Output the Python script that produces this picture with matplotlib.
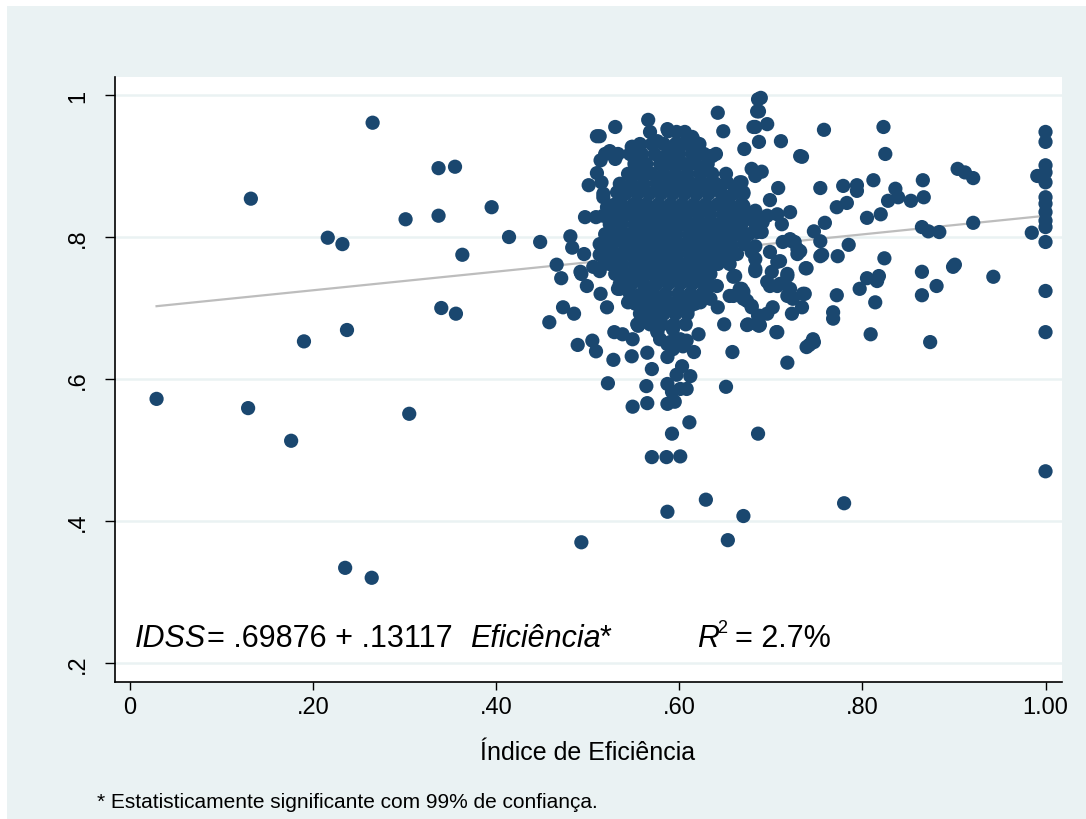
import numpy as np
import matplotlib.pyplot as plt
from matplotlib.patches import Rectangle

plt.rcParams['font.family'] = ['Liberation Sans', 'DejaVu Sans']

# regression shown on the chart
intercept = 0.69876
slope = 0.13117
fit_range = [0.029, 1.0]

xtick_vals = [0, 0.2, 0.4, 0.6, 0.8, 1.0]
xtick_labels = ['0', '.20', '.40', '.60', '.80', '1.00']
ytick_vals = [0.2, 0.4, 0.6, 0.8, 1.0]
ytick_labels = ['.2', '.4', '.6', '.8', '1']

# scattered municipalities on the left
left_pts = [(.029, .572), (.132, .854), (.129, .559), (.176, .513), (.190, .653),
            (.216, .799), (.232, .790), (.237, .669), (.265, .961), (.235, .334),
            (.264, .320), (.301, .825), (.305, .551), (.337, .897), (.355, .899),
            (.337, .830), (.340, .700), (.356, .692), (.363, .775), (.395, .842),
            (.414, .800), (.448, .793)]

# edge of the main cluster
edge_pts = [(.481, .801), (.483, .785), (.496, .776), (.466, .761), (.471, .742),
            (.493, .748), (.499, .731), (.513, .775), (.506, .758), (.518, .762),
            (.513, .752), (.514, .720), (.521, .701), (.530, .800), (.533, .727),
            (.473, .701), (.485, .692), (.458, .680), (.489, .648), (.505, .654),
            (.509, .639), (.529, .666), (.528, .627), (.497, .828), (.509, .828),
            (.521, .830), (.501, .873), (.515, .877), (.517, .856), (.510, .890),
            (.566, .965), (.530, .955), (.510, .942), (.524, .921), (.514, .908),
            (.517, .861), (.534, .863), (.528, .845), (.548, .927), (.551, .910),
            (.548, .870), (.568, .948), (.576, .935), (.588, .949), (.597, .948),
            (.606, .948), (.615, .938), (.634, .914), (.642, .975), (.648, .949),
            (.671, .924), (.679, .896), (.686, .994), (.685, .977), (.681, .955),
            (.532, .797), (.652, .877), (.664, .872), (.522, .594), (.492, .751),
            (.535, .727), (.544, .708), (.557, .717), (.559, .680), (.554, .677),
            (.568, .694), (.576, .666), (.587, .649), (.593, .642), (.601, .656),
            (.608, .654), (.614, .706), (.623, .708), (.634, .713), (.642, .701),
            (.659, .744), (.655, .717), (.666, .727), (.670, .717), (.675, .677),
            (.685, .677), (.679, .703), (.513, .942), (.530, .910), (.549, .927),
            (.532, .863), (.521, .842), (.517, .830), (.560, .844), (.604, .931),
            (.590, .921), (.587, .952), (.614, .941), (.636, .914), (.630, .900)]

# lower part of the cluster
low_pts = [(.548, .632), (.565, .637), (.570, .614), (.564, .590), (.565, .566),
           (.549, .561), (.587, .593), (.587, .565), (.595, .568), (.592, .582),
           (.601, .586), (.608, .586), (.603, .618), (.597, .606), (.612, .604),
           (.611, .539), (.592, .523), (.686, .523), (.651, .589), (.658, .638),
           (.718, .623), (.616, .638), (.587, .631), (.621, .663), (.649, .677),
           (.674, .676), (.687, .675), (.706, .666), (.742, .648), (.746, .656),
           (.738, .756), (.754, .773), (.702, .701), (.723, .692), (.734, .701),
           (.686, .689), (.696, .692), (.679, .701), (.674, .710), (.659, .717),
           (.668, .727), (.661, .745), (.634, .731), (.641, .731), (.620, .745),
           (.617, .713), (.612, .703), (.604, .701), (.576, .689), (.555, .675),
           (.538, .663), (.549, .656), (.579, .656), (.590, .652), (.604, .646),
           (.576, .668), (.593, .670), (.555, .717), (.568, .723), (.543, .741),
           (.683, .755), (.696, .737), (.707, .731), (.718, .745), (.718, .717),
           (.724, .713), (.735, .720), (.707, .765), (.729, .776), (.679, .779)]

bottom_pts = [(.493, .370), (.570, .490), (.586, .490), (.601, .491), (.587, .413),
              (.629, .430), (.670, .407), (.653, .373), (.780, .425), (1.0, .470)]

right_pts = [(.689, .996), (.687, .977), (.683, .955), (.696, .959), (.687, .934),
             (.711, .935), (.758, .951), (.734, .913), (.823, .955), (.825, .917),
             (1.0, .948), (1.0, .934), (.690, .892), (.683, .886), (.754, .869),
             (.779, .872), (.794, .873), (.794, .865), (.812, .880), (.866, .880),
             (.904, .896), (.912, .891), (.921, .883), (1.0, .901), (1.0, .891),
             (.991, .886), (1.0, .877), (1.0, .856), (1.0, .847), (1.0, .835),
             (1.0, .823), (1.0, .814), (.985, .806), (1.0, .793), (1.0, .724),
             (1.0, .666), (.921, .820), (.884, .807), (.865, .814), (.872, .808),
             (.867, .856), (.853, .851), (.836, .868), (.839, .856), (.828, .851),
             (.820, .832), (.805, .827), (.783, .848), (.772, .842), (.708, .869),
             (.699, .852), (.759, .820), (.747, .808), (.754, .794), (.785, .789),
             (.756, .775), (.773, .773), (.824, .770), (.739, .756), (.772, .718),
             (.768, .694), (.768, .685), (.805, .742), (.818, .745), (.816, .738),
             (.797, .727), (.814, .708), (.865, .751), (.881, .731), (.865, .718),
             (.901, .761), (.899, .758), (.943, .744), (.809, .663), (.874, .652),
             (.739, .645), (.747, .652), (.707, .666), (.737, .720), (.688, .676),
             (.688, .689), (.670, .723), (.670, .713), (.721, .727), (.699, .731),
             (.710, .734), (.718, .748), (.701, .751), (.710, .766), (.699, .779),
             (.713, .793), (.683, .752), (.683, .769), (.683, .787), (.685, .807),
             (.686, .825), (.683, .837), (.691, .821), (.707, .832), (.721, .835),
             (.712, .818), (.726, .793), (.732, .780), (.670, .844), (.670, .825),
             (.670, .863), (.668, .877), (.721, .797), (.732, .914), (.666, .877),
             (.644, .868), (.653, .856), (.670, .861), (.696, .830), (.690, .807),
             (.723, .794), (.729, .783), (.670, .823), (.666, .807), (.644, .801),
             (.652, .807)]

# dense core: y level -> x values read along that row
core_rows = {
    .931: [.557, .570, .583, .596, .609, .622],
    .917: [.519, .533, .546, .559, .573, .587, .600, .614, .627, .640],
    .903: [.551, .564, .579, .592, .605, .618, .631],
    .889: [.544, .557, .570, .583, .596, .609, .623, .636, .651],
    .875: [.535, .548, .561, .575, .588, .601, .614, .627, .640, .666],
    .861: [.541, .554, .567, .580, .593, .606, .619, .632, .646, .659],
    .846: [.537, .550, .564, .577, .590, .603, .616, .629, .642, .655, .668],
    .832: [.530, .543, .556, .569, .582, .595, .608, .621, .634, .648, .661, .675],
    .818: [.524, .537, .551, .564, .577, .590, .603, .616, .629, .642, .655, .668, .683],
    .804: [.519, .532, .545, .558, .571, .584, .597, .611, .624, .637, .650, .663, .676],
    .790: [.513, .526, .540, .553, .566, .579, .592, .605, .618, .631, .644, .657, .671],
    .776: [.519, .532, .545, .558, .571, .584, .597, .611, .624, .637, .650, .663],
    .762: [.524, .537, .551, .564, .577, .590, .603, .616, .629, .642, .655],
    .748: [.530, .543, .556, .569, .582, .595, .608, .621, .634],
    .734: [.535, .548, .561, .575, .588, .601, .614, .627],
    .720: [.546, .559, .572, .585, .599, .612, .625],
    .706: [.552, .565, .578, .591, .604, .617],
    .692: [.557, .570, .583, .596, .609],
    .677: [.568, .581, .594, .607],
}

pts = left_pts + edge_pts + low_pts + bottom_pts + right_pts
for yv, xs in core_rows.items():
    pts += [(xv, yv) for xv in xs]
pts = np.array(pts)

W, H = 1086, 820
fig = plt.figure(figsize=(W / 100, H / 100), dpi=100)
fig.patch.set_facecolor('white')
fig.patches.append(Rectangle((7 / W, 0), 1, 1 - 7 / H, transform=fig.transFigure,
                             facecolor='#EAF2F3', edgecolor='none', zorder=-10))

ax = fig.add_axes([115 / W, 1 - 683 / H, (1062 - 115) / W, (683 - 78) / H])
ax.set_facecolor('white')

for yv in ytick_vals:
    ax.axhline(yv, color='#EAF2F3', lw=1.8, zorder=0)

fx = np.array(fit_range)
ax.plot(fx, intercept + slope * fx, color='#BDBDBD', lw=1.6, zorder=1)
ax.scatter(pts[:, 0], pts[:, 1], s=105, color='#1A476F', edgecolors='none', zorder=2)

ax.set_xlim(-0.0164, 1.018)
ax.set_ylim(0.1732, 1.0254)
ax.set_xticks(xtick_vals)
ax.set_xticklabels(xtick_labels)
ax.set_yticks(ytick_vals)
ax.set_yticklabels(ytick_labels, rotation=90, va='center')
ax.tick_params(axis='x', length=6, width=1, labelsize=17, pad=4)
ax.tick_params(axis='y', length=7.5, width=1, labelsize=17, pad=11)
for s in ['top', 'right']:
    ax.spines[s].set_visible(False)
for s in ['left', 'bottom']:
    ax.spines[s].set_linewidth(1.2)

def px(x, y):
    return x / W, 1 - y / H

fig.text(*px(588, 760), 'Índice de Eficiência', fontsize=18, ha='center', va='baseline')
fig.text(*px(97, 808), '* Estatisticamente significante com 99% de confiança.',
         fontsize=15, ha='left', va='baseline')

# equation annotation
fig.text(*px(135, 647), 'IDSS', fontsize=22, style='italic', va='baseline')
fig.text(*px(207, 647), '= .69876 + .13117', fontsize=22, va='baseline')
fig.text(*px(470, 647), 'Eficiência', fontsize=22, style='italic', va='baseline')
fig.text(*px(600, 647), '*', fontsize=22, va='baseline')
fig.text(*px(697, 647), 'R', fontsize=22, style='italic', va='baseline')
fig.text(*px(717, 633), '2', fontsize=13, va='baseline')
fig.text(*px(735, 647), '= 2.7%', fontsize=22, va='baseline')

fig.savefig('out.png', dpi=100, facecolor=fig.get_facecolor())
